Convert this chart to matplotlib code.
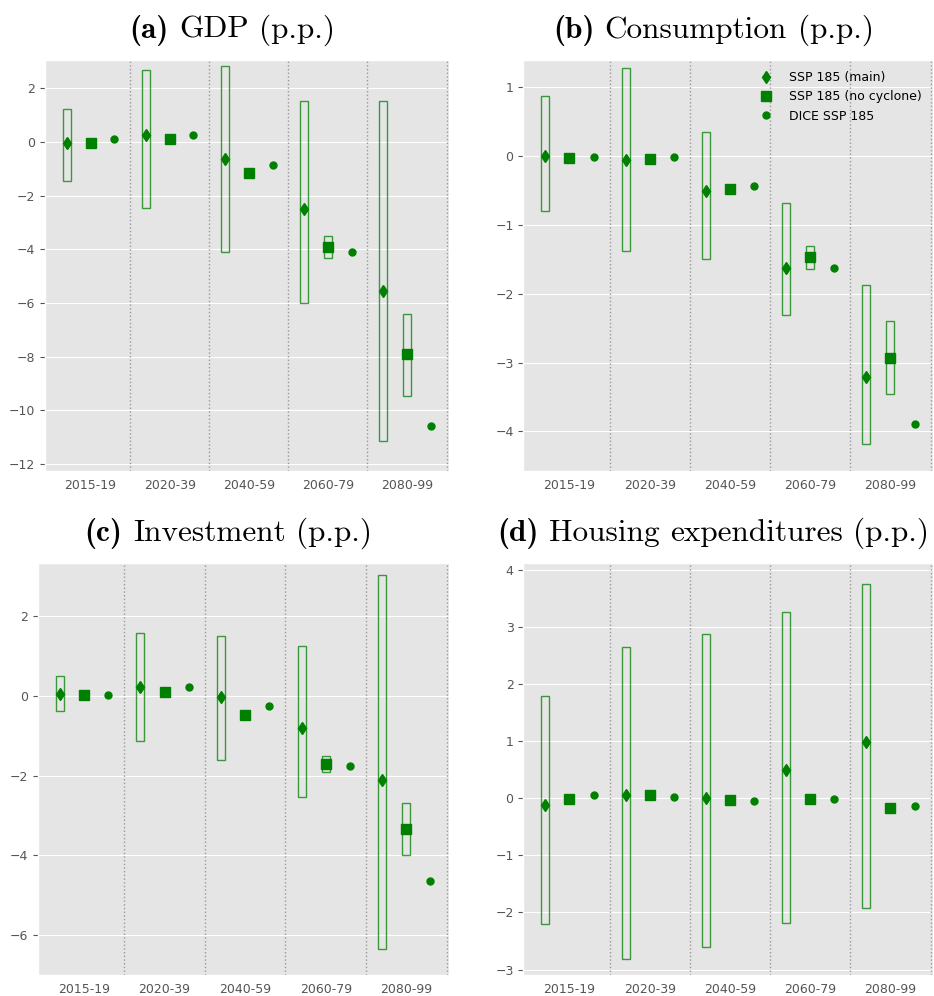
import matplotlib
matplotlib.use('Agg')
import matplotlib.pyplot as plt
from matplotlib.offsetbox import TextArea, HPacker, AnchoredOffsetbox
import numpy as np

plt.style.use('ggplot')

periods = ['2015-19', '2020-39', '2040-59', '2060-79', '2080-99']

# (a) GDP
gdp_main = [-0.06, 0.24, -0.63, -2.49, -5.55]
gdp_main_lo = [-1.46, -2.48, -4.10, -6.00, -11.16]
gdp_main_hi = [1.24, 2.66, 2.82, 1.51, 1.51]
gdp_nc = [-0.04, 0.11, -1.17, -3.93, -7.91]
gdp_nc_lo = [-0.10, 0.00, -1.22, -4.33, -9.45]
gdp_nc_hi = [0.02, 0.24, -1.12, -3.52, -6.40]
gdp_dice = [0.10, 0.26, -0.88, -4.12, -10.57]

# (b) Consumption
cons_main = [0.00, -0.05, -0.51, -1.62, -3.21]
cons_main_lo = [-0.79, -1.38, -1.49, -2.30, -4.18]
cons_main_hi = [0.88, 1.28, 0.35, -0.68, -1.87]
cons_nc = [-0.02, -0.04, -0.48, -1.47, -2.93]
cons_nc_lo = [-0.05, -0.07, -0.52, -1.64, -3.45]
cons_nc_hi = [0.01, -0.01, -0.44, -1.31, -2.40]
cons_dice = [-0.01, -0.01, -0.43, -1.63, -3.89]

# (c) Investment
inv_main = [0.04, 0.22, -0.02, -0.81, -2.10]
inv_main_lo = [-0.39, -1.13, -1.61, -2.53, -6.36]
inv_main_hi = [0.50, 1.57, 1.50, 1.24, 3.03]
inv_nc = [0.02, 0.10, -0.48, -1.71, -3.34]
inv_nc_lo = [-0.02, 0.05, -0.53, -1.92, -4.00]
inv_nc_hi = [0.06, 0.15, -0.43, -1.50, -2.69]
inv_dice = [0.03, 0.21, -0.25, -1.75, -4.64]

# (d) Housing expenditures
hous_main = [-0.12, 0.05, 0.00, 0.50, 0.99]
hous_main_lo = [-2.21, -2.82, -2.61, -2.19, -1.92]
hous_main_hi = [1.79, 2.64, 2.88, 3.26, 3.74]
hous_nc = [-0.02, 0.05, -0.03, -0.02, -0.18]
hous_nc_lo = [-0.05, 0.02, -0.06, -0.05, -0.22]
hous_nc_hi = [0.01, 0.08, 0.00, 0.01, -0.14]
hous_dice = [0.06, 0.02, -0.05, -0.01, -0.14]

panels = [
    ('(a)', 'GDP (p.p.)', gdp_main, gdp_main_lo, gdp_main_hi,
     gdp_nc, gdp_nc_lo, gdp_nc_hi, gdp_dice, (-12.25, 3.05)),
    ('(b)', 'Consumption (p.p.)', cons_main, cons_main_lo, cons_main_hi,
     cons_nc, cons_nc_lo, cons_nc_hi, cons_dice, (-4.57, 1.40)),
    ('(c)', 'Investment (p.p.)', inv_main, inv_main_lo, inv_main_hi,
     inv_nc, inv_nc_lo, inv_nc_hi, inv_dice, (-7.0, 3.33)),
    ('(d)', 'Housing expenditures (p.p.)', hous_main, hous_main_lo, hous_main_hi,
     hous_nc, hous_nc_lo, hous_nc_hi, hous_dice, (-3.09, 4.11)),
]

positions = [
    [0.0482, 0.5274, 0.4325, 0.4124],
    [0.5603, 0.5274, 0.4386, 0.4124],
    [0.0404, 0.0211, 0.4403, 0.4136],
    [0.5603, 0.0214, 0.4386, 0.4130],
]

fig = plt.figure(figsize=(9.34, 9.96), dpi=100)
x = np.arange(len(periods))
off = 0.3
green = 'green'
title_size = 22.5

for k, (tag, name, main, mlo, mhi, nc, nlo, nhi, dice, ylim) in enumerate(panels):
    ax = fig.add_axes(positions[k])
    ax.bar(x - off, np.array(mhi) - np.array(mlo), bottom=mlo, width=0.1,
           fill=False, edgecolor=green, linewidth=1, alpha=0.75)
    ax.bar(x, np.array(nhi) - np.array(nlo), bottom=nlo, width=0.1,
           fill=False, edgecolor=green, linewidth=1, alpha=0.75)
    ax.plot(x - off, main, 'd', color=green, ms=6.5, label='SSP 185 (main)')
    ax.plot(x, nc, 's', color=green, ms=7, label='SSP 185 (no cyclone)')
    ax.plot(x + off, dice, 'o', color=green, ms=5, label='DICE SSP 185')
    for s in x + 0.5:
        ax.axvline(s, color='#999999', linestyle=':', linewidth=1)
    ax.set_xticks(x)
    ax.set_xticklabels(periods)
    ax.tick_params(axis='x', length=0, labelsize=9, pad=6)
    ax.tick_params(axis='y', labelsize=9)
    ax.grid(False, axis='x')
    ax.set_xlim(-0.575, 4.53)
    ax.set_ylim(ylim)

    # title: bold tag + roman words in Computer Modern
    parts = [TextArea(tag, textprops=dict(family='cmb10', size=title_size))]
    for w in name.split(' '):
        parts.append(TextArea(w, textprops=dict(family='cmr10', size=title_size)))
    pack = HPacker(children=parts, align='baseline', pad=0, sep=7.5)
    w_px = positions[k][2] * 934
    h_px = positions[k][3] * 996
    title_box = AnchoredOffsetbox(loc='lower center', child=pack, pad=0, borderpad=0,
                                  frameon=False,
                                  bbox_to_anchor=(0.5 - 15 / w_px, 1 + 14 / h_px),
                                  bbox_transform=ax.transAxes)
    ax.add_artist(title_box)

    if k == 1:
        ax.legend(loc='upper right', frameon=False, fontsize=9)

plt.savefig('out.png', dpi=100)
